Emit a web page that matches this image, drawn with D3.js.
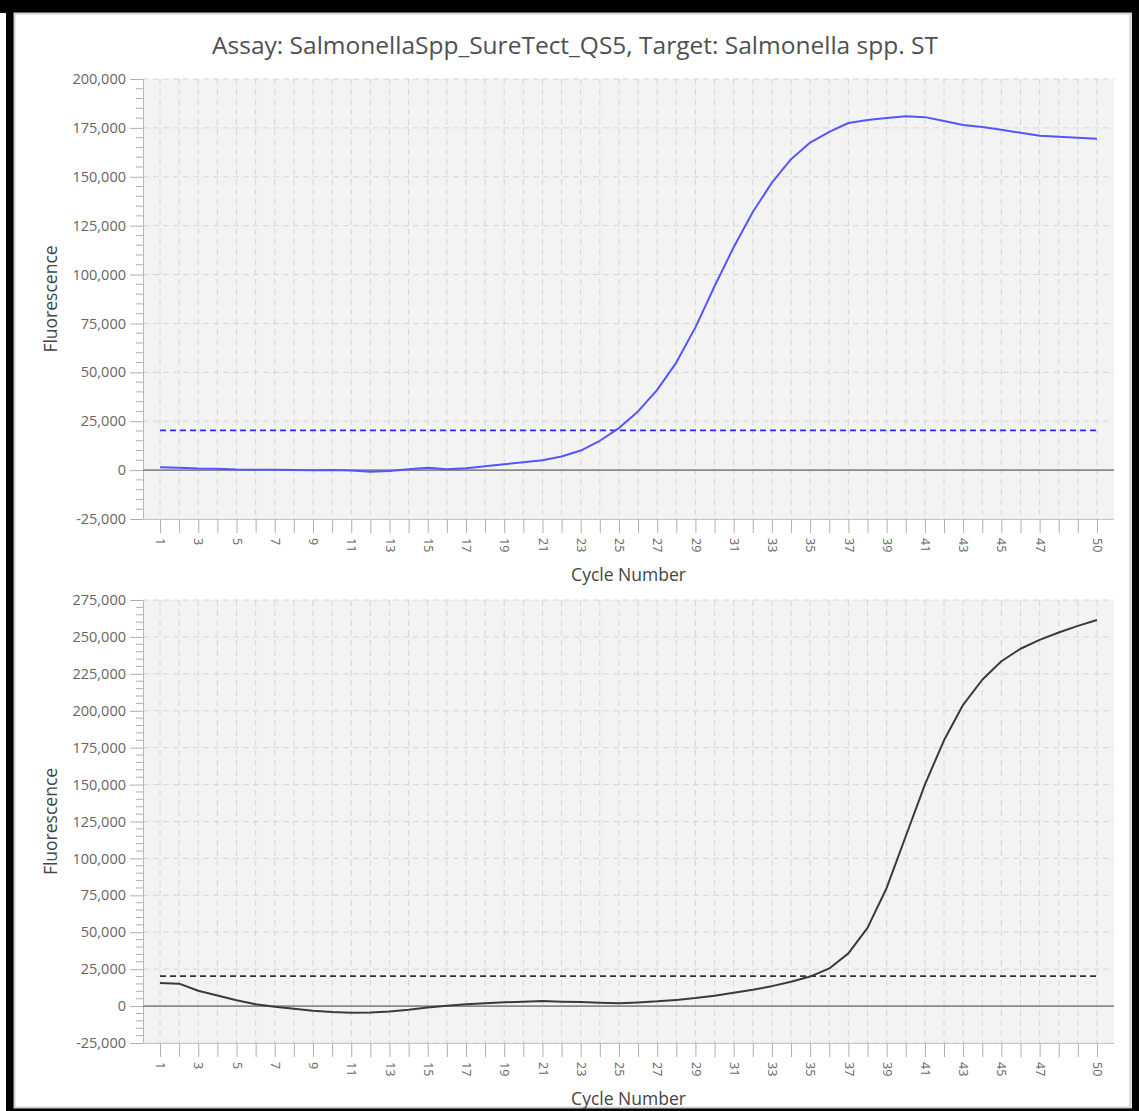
<!DOCTYPE html>
<html>
<head>
<meta charset="utf-8">
<script src="https://cdn.jsdelivr.net/npm/d3@7"></script>
<style>
body { margin: 0; background: #fff; }
text { font-family: "Open Sans", sans-serif; }
</style>
</head>
<body>
<svg id="chart" width="1139" height="1111"></svg>
<script>
// cycle numbers (x categories)
var cycles = [1,2,3,4,5,6,7,8,9,10,11,12,13,14,15,16,17,18,19,20,21,22,23,24,25,
              26,27,28,29,30,31,32,33,34,35,36,37,38,39,40,41,42,43,44,45,46,47,48,49,50];
var xLabelCycles = [1,3,5,7,9,11,13,15,17,19,21,23,25,27,29,31,33,35,37,39,41,43,45,47,50];

// Salmonella spp. ST (blue) amplification curve
var topFluor = [1500,1200,800,700,300,200,200,0,-100,0,-200,-900,-500,500,1200,500,1000,2000,3000,4000,
                5000,7000,10000,15000,21500,30000,41000,55000,73000,94000,114000,132000,147000,159000,167500,
                173000,177500,179000,180000,181000,180500,178500,176500,175500,174000,172500,171000,170500,170000,169500];
// second target (black) amplification curve
var bottomFluor = [15700,15200,10400,7200,4000,1300,-500,-1800,-3200,-4000,-4500,-4300,-3600,-2500,-1000,300,1200,2000,2600,3000,
                   3400,3000,2700,2300,2000,2500,3200,4200,5400,7000,9000,11000,13500,16500,20000,
                   25500,35700,53000,80000,115000,150000,180000,204000,221000,233500,242000,248000,253000,257500,261500];

var topThreshold = 20300;
var bottomThreshold = 20300;

var topYTicks = [-25000,0,25000,50000,75000,100000,125000,150000,175000,200000];
var bottomYTicks = [-25000,0,25000,50000,75000,100000,125000,150000,175000,200000,225000,250000,275000];

var title = "Assay: SalmonellaSpp_SureTect_QS5, Target: Salmonella spp. ST";

var svg = d3.select("#chart");
var fmt = d3.formatLocale({decimal: ".", thousands: ",", grouping: [3], currency: ["", ""], minus: "-"}).format(",");

// window frame
svg.append("rect").attr("x", 0).attr("y", 0).attr("width", 1139).attr("height", 13).attr("fill", "#000");
svg.append("rect").attr("x", 6).attr("y", 0).attr("width", 8).attr("height", 1111).attr("fill", "#000");
svg.append("rect").attr("x", 1132).attr("y", 0).attr("width", 7).attr("height", 1111).attr("fill", "#000");
svg.append("rect").attr("x", 6).attr("y", 1108).attr("width", 1133).attr("height", 3).attr("fill", "#000");
svg.append("rect").attr("x", 14.5).attr("y", 13.5).attr("width", 1116).attr("height", 1094)
    .attr("fill", "none").attr("stroke", "#d0d0d0").attr("stroke-width", 2);

svg.append("text")
    .attr("x", 575).attr("y", 54)
    .attr("text-anchor", "middle")
    .attr("font-size", 24.5)
    .attr("fill", "#505050")
    .text(title);

var xScale = d3.scaleLinear().domain([0.11, 50.89]).range([143, 1114]);

function drawPanel(top, bottom, yTicks, values, threshold, lineColor, thresholdColor) {
    var yScale = d3.scaleLinear().domain([yTicks[0], yTicks[yTicks.length - 1]]).range([bottom, top]);
    var g = svg.append("g");

    // plot background
    g.append("rect")
        .attr("x", xScale.range()[0]).attr("y", top)
        .attr("width", xScale.range()[1] - xScale.range()[0])
        .attr("height", bottom - top)
        .attr("fill", "#f3f3f3");

    // vertical grid, one per cycle
    g.append("g").selectAll("line")
        .data(cycles)
        .enter().append("line")
        .attr("x1", function(d) { return xScale(d); })
        .attr("x2", function(d) { return xScale(d); })
        .attr("y1", top).attr("y2", bottom)
        .attr("stroke", "#d6d6d6")
        .attr("stroke-dasharray", "6,4");

    // horizontal grid
    g.append("g").selectAll("line")
        .data(yTicks)
        .enter().append("line")
        .attr("x1", xScale.range()[0]).attr("x2", xScale.range()[1])
        .attr("y1", function(d) { return yScale(d); })
        .attr("y2", function(d) { return yScale(d); })
        .attr("stroke", "#d6d6d6")
        .attr("stroke-dasharray", "6,4");

    // minor y ticks every 5,000
    var minor = d3.range(yTicks[0], yTicks[yTicks.length - 1], 5000).filter(function(d) { return d % 25000 !== 0; });
    g.append("g").selectAll("line")
        .data(minor)
        .enter().append("line")
        .attr("x1", xScale.range()[0] - 7).attr("x2", xScale.range()[0])
        .attr("y1", function(d) { return yScale(d); })
        .attr("y2", function(d) { return yScale(d); })
        .attr("stroke", "#b0b0b0");

    // y axis
    var yAxis = g.append("g")
        .attr("transform", "translate(" + xScale.range()[0] + ",0)")
        .call(d3.axisLeft(yScale).tickValues(yTicks).tickSize(13).tickPadding(4).tickFormat(fmt));
    yAxis.select(".domain").attr("stroke", "#b8b8b8");
    yAxis.selectAll(".tick line").attr("stroke", "#b0b0b0");
    yAxis.selectAll("text").attr("font-size", 14.5).attr("fill", "#666").attr("font-family", "Open Sans, sans-serif");

    // x axis
    var xAxis = g.append("g")
        .attr("transform", "translate(0," + bottom + ")")
        .call(d3.axisBottom(xScale).tickValues(cycles).tickSize(14)
            .tickFormat(function(d) { return xLabelCycles.indexOf(d) >= 0 ? d : ""; }));
    xAxis.select(".domain").attr("stroke", "#c8c8c8").attr("d", "M" + xScale.range()[0] + ",0.5H" + xScale.range()[1]);
    xAxis.selectAll(".tick line").attr("stroke", "#b0b0b0");
    xAxis.selectAll("text")
        .attr("y", 0).attr("x", 19).attr("dy", "0.35em")
        .attr("transform", "rotate(90)")
        .style("text-anchor", "start")
        .attr("font-size", 12.5).attr("fill", "#666").attr("font-family", "Open Sans, sans-serif");

    // zero baseline
    g.append("line")
        .attr("x1", xScale.range()[0]).attr("x2", xScale.range()[1])
        .attr("y1", yScale(0)).attr("y2", yScale(0))
        .attr("stroke", "#8a8a8a").attr("stroke-width", 1.6);

    // threshold
    g.append("line")
        .attr("x1", xScale(cycles[0])).attr("x2", xScale(cycles[cycles.length - 1]))
        .attr("y1", yScale(threshold)).attr("y2", yScale(threshold))
        .attr("stroke", thresholdColor).attr("stroke-width", 1.8)
        .attr("stroke-dasharray", "6,4");

    // amplification curve
    var line = d3.line()
        .x(function(d, i) { return xScale(cycles[i]); })
        .y(function(d) { return yScale(d); });
    g.append("path")
        .datum(values)
        .attr("d", line)
        .attr("fill", "none")
        .attr("stroke", lineColor)
        .attr("stroke-width", 2)
        .attr("stroke-linejoin", "round");

    // axis titles
    g.append("text")
        .attr("x", (xScale.range()[0] + xScale.range()[1]) / 2)
        .attr("y", bottom + 62)
        .attr("text-anchor", "middle")
        .attr("font-size", 17.5)
        .attr("fill", "#444")
        .text("Cycle Number");

    g.append("text")
        .attr("transform", "translate(57," + (top + bottom) / 2 + ") rotate(-90)")
        .attr("text-anchor", "middle")
        .attr("font-size", 17.5)
        .attr("fill", "#444")
        .text("Fluorescence");
}

drawPanel(79, 519, topYTicks, topFluor, topThreshold, "#5555ff", "#2b2bff");
drawPanel(600, 1043, bottomYTicks, bottomFluor, bottomThreshold, "#3a3a3a", "#333");
</script>
</body>
</html>
